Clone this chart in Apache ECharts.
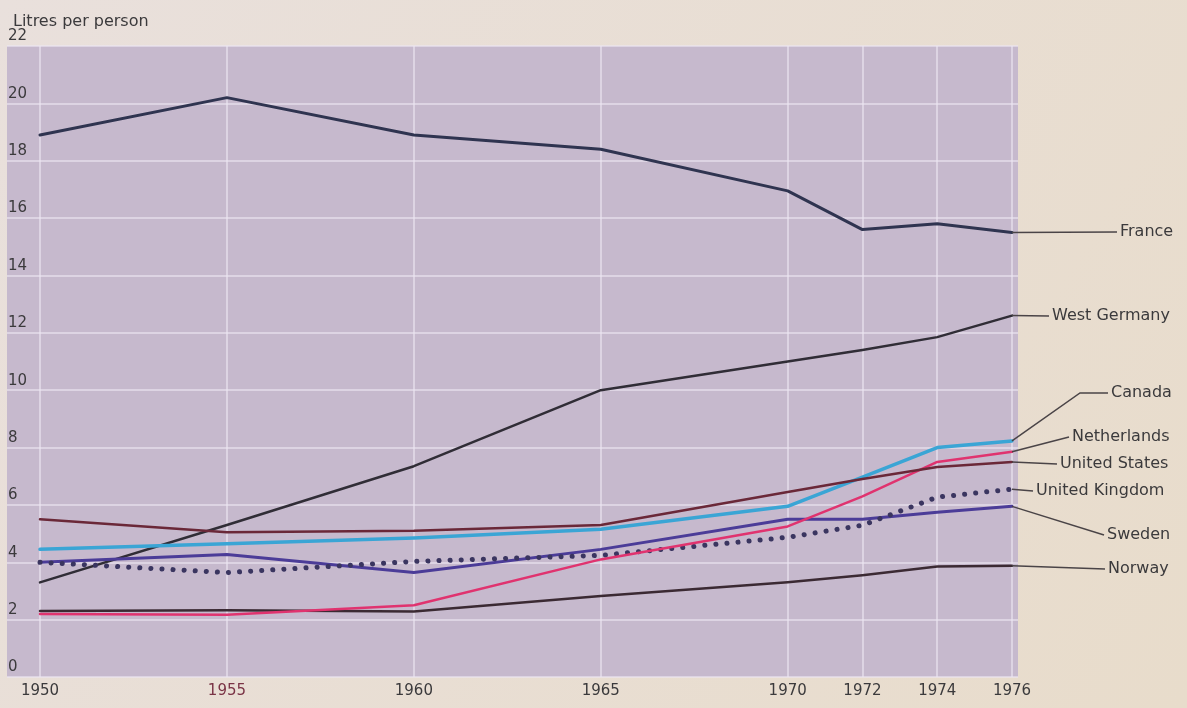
<!DOCTYPE html>
<html>
<head>
<meta charset="utf-8">
<script src="https://cdn.jsdelivr.net/npm/echarts@6/dist/echarts.min.js"></script>
<style>
  html, body { margin: 0; padding: 0; background: #e8ded2; }
  #chart { width: 1187px; height: 708px; }
</style>
</head>
<body>
<div id="chart"></div>
<script>
// ---- data ----
const yearsAll = ['1950','1951','1952','1953','1954','1955','1956','1957','1958','1959',
  '1960','1961','1962','1963','1964','1965','1966','1967','1968','1969',
  '1970','1971','1972','1973','1974','1975','1976'];
const tickYears = ['1950','1955','1960','1965','1970','1972','1974','1976'];
const sampleYears = ['1950','1955','1960','1965','1970','1972','1974','1976'];
const yTicks = [0,2,4,6,8,10,12,14,16,18,20,22];

const france       = [18.9, 20.2, 18.9, 18.4, 16.95, 15.6, 15.8, 15.5];
const westGermany  = [3.3, 5.3, 7.35, 10.0, 11.0, 11.4, 11.85, 12.6];
const canada       = [4.45, 4.65, 4.85, 5.15, 5.95, 6.97, 8.0, 8.23];
const netherlands  = [2.2, 2.17, 2.5, 4.1, 5.25, 6.3, 7.5, 7.85];
const unitedStates = [5.5, 5.05, 5.1, 5.3, 6.45, 6.9, 7.32, 7.5];
const unitedKingdom= [4.0, 3.64, 4.03, 4.24, 4.87, 5.29, 6.27, 6.55];
const sweden       = [4.0, 4.27, 3.64, 4.45, 5.5, 5.5, 5.74, 5.95];
const norway       = [2.3, 2.33, 2.28, 2.82, 3.3, 3.55, 3.85, 3.88];

const seriesDefs = [
  { name: 'France', values: france, color: '#2f3450', width: 3 },
  { name: 'West Germany', values: westGermany, color: '#302d36', width: 2.5 },
  { name: 'Norway', values: norway, color: '#3b2a33', width: 2.5 },
  { name: 'Sweden', values: sweden, color: '#4b3c98', width: 3 },
  { name: 'United Kingdom', values: unitedKingdom, color: '#3a3560', width: 5, dotted: true },
  { name: 'Netherlands', values: netherlands, color: '#e0336f', width: 2.5 },
  { name: 'Canada', values: canada, color: '#3aa5d5', width: 3.5 },
  { name: 'United States', values: unitedStates, color: '#6a2838', width: 2.5 }
];

// label layout (annotation positions)
const labelDefs = [
  { name: 'France', x: 1120, y: 232, bends: [] },
  { name: 'West Germany', x: 1052, y: 316, bends: [] },
  { name: 'Canada', x: 1111, y: 393, bends: [[1080, 393]] },
  { name: 'Netherlands', x: 1072, y: 437, bends: [] },
  { name: 'United States', x: 1060, y: 464, bends: [] },
  { name: 'United Kingdom', x: 1036, y: 491, bends: [] },
  { name: 'Sweden', x: 1107, y: 535, bends: [] },
  { name: 'Norway', x: 1108, y: 569, bends: [] }
];

const chart = echarts.init(document.getElementById('chart'));
const FONT = '"DejaVu Sans", "Liberation Sans", Arial, sans-serif';
const gridTop = 46, gridBottom = 31;
const GRIDLINE = 'rgba(236,230,242,0.6)';

const option = {
  backgroundColor: {
    type: 'linear', x: 0, y: 0, x2: 1, y2: 1,
    colorStops: [{ offset: 0, color: '#e9e0dc' }, { offset: 1, color: '#e8dccb' }]
  },
  animation: false,
  title: {
    text: 'Litres per person', left: 8, top: 9,
    textStyle: { fontFamily: FONT, fontSize: 16, fontWeight: 'normal', color: '#3b3a3c' }
  },
  grid: [
    { left: 7, right: 169, top: gridTop, bottom: gridBottom, show: true,
      backgroundColor: '#c6b9cd', borderWidth: 0 },
    { left: 40, right: 175, top: gridTop, bottom: gridBottom }
  ],
  xAxis: [
    { gridIndex: 0, type: 'value', min: 0, max: 1, show: false },
    { gridIndex: 1, type: 'category', data: yearsAll, boundaryGap: false,
      axisLine: { show: false }, axisTick: { show: false },
      axisLabel: {
        interval: (i, v) => tickYears.includes(v),
        margin: 7, fontFamily: FONT, fontSize: 15, color: '#3b3a3c',
        formatter: v => v === '1955' ? '{m|' + v + '}' : v,
        rich: { m: { color: '#7a3446', fontFamily: FONT, fontSize: 15 } }
      },
      splitLine: { show: true, interval: (i, v) => tickYears.includes(v),
        lineStyle: { color: GRIDLINE, width: 2 } }
    }
  ],
  yAxis: [
    { gridIndex: 0, type: 'value', min: 0, max: 22, interval: 2,
      axisLine: { show: false }, axisTick: { show: false },
      axisLabel: { inside: true, margin: 1, verticalAlign: 'bottom', padding: [0, 0, 2, 0],
        fontFamily: FONT, fontSize: 15, color: '#3b3a3c',
        formatter: v => yTicks.includes(v) ? String(v) : '' },
      splitLine: { show: true, lineStyle: { color: GRIDLINE, width: 2 } }
    },
    { gridIndex: 1, type: 'value', min: 0, max: 22, interval: 2, show: false }
  ],
  series: seriesDefs.map(s => ({
    name: s.name, type: 'line', xAxisIndex: 1, yAxisIndex: 1,
    data: sampleYears.map((y, i) => [y, s.values[i]]),
    showSymbol: false, symbol: 'none', smooth: false,
    lineStyle: s.dotted
      ? { color: s.color, width: s.width, type: [0.1, 11], cap: 'round' }
      : { color: s.color, width: s.width, cap: 'round', join: 'round' },
    z: 3
  }))
};
chart.setOption(option);

// leader lines and country labels, anchored at each series' last point
const graphics = [];
labelDefs.forEach(L => {
  const sIdx = seriesDefs.findIndex(s => s.name === L.name);
  const s = seriesDefs[sIdx];
  const last = sampleYears.length - 1;
  const p = chart.convertToPixel({ seriesIndex: sIdx }, [yearsAll.indexOf(sampleYears[last]), s.values[last]]);
  const pts = [p].concat(L.bends).concat([[L.x - 3, L.y]]);
  graphics.push({ type: 'polyline', silent: true, z: 10,
    shape: { points: pts }, style: { stroke: '#4a4447', lineWidth: 1.5, fill: null } });
  graphics.push({ type: 'text', silent: true, z: 10, x: L.x, y: L.y,
    style: { text: L.name, fontFamily: FONT, fontSize: 16, fill: '#3b3a3c', verticalAlign: 'middle' } });
});
chart.setOption({ graphic: graphics });
</script>
</body>
</html>
